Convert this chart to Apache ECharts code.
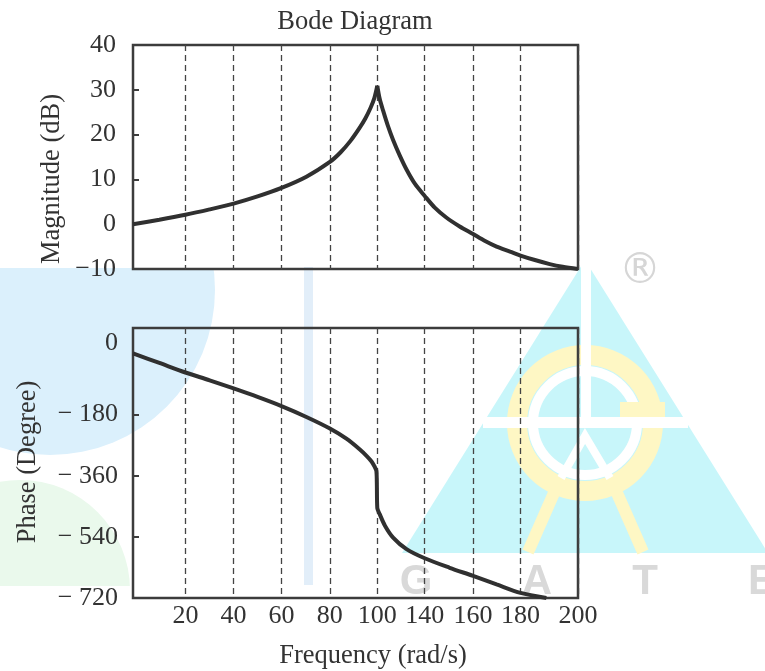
<!DOCTYPE html>
<html>
<head>
<meta charset="utf-8">
<script src="https://cdn.jsdelivr.net/npm/echarts@6/dist/echarts.min.js"></script>
<style>
  html, body { margin: 0; padding: 0; background: #fff; }
  #chart { width: 765px; height: 671px; }
</style>
</head>
<body>
<div id="chart"></div>
<script>
// x axis: one unit = one grid spacing of the figure (labels are not evenly spaced in rad/s)
var xTickAt = [1.094, 2.10, 3.10, 4.11, 5.10, 6.09, 7.10, 8.09, 9.29]
var xTickLabels = ['20', '40', '60', '80', '100', '140', '160', '180', '200']

// magnitude curve (dB), peak at index 15
var magX = [0, 0.55, 1.094, 1.6, 2.10, 2.6, 3.10, 3.62, 4.11, 4.33, 4.54, 4.73, 4.85, 4.96, 5.04, 5.10,
  5.15, 5.22, 5.32, 5.43, 5.57, 5.71, 5.88, 6.09, 6.30, 6.54, 6.82, 7.10, 7.34, 7.59, 7.87, 8.09, 8.39, 8.70, 8.97, 9.29]
var magDb = [0, 1.0, 2.1, 3.3, 4.6, 6.2, 8.1, 10.6, 13.9, 16.0, 18.6, 21.5, 23.6, 26.0, 28.2, 30.9,
  28.0, 25.4, 22.0, 18.8, 15.3, 12.2, 9.1, 6.3, 3.7, 1.5, -0.5, -2.2, -3.7, -5.0, -6.1, -7.0, -8.0, -8.9, -9.5, -10]

// phase curve (degree)
var phaseX = [0, 0.55, 1.094, 1.6, 2.10, 2.6, 3.10, 3.62, 4.11, 4.455, 4.73, 4.88, 4.98, 5.04, 5.08, 5.09, 5.10,
  5.15, 5.26, 5.43, 5.71, 6.09, 6.61, 7.10, 7.59, 8.09, 8.63]
var phaseDeg = [0, -28, -56, -79, -103, -128, -155, -187, -221, -251, -282, -302, -318, -332, -345, -380, -455,
  -473, -507, -542, -576, -603, -631, -655, -680, -705, -720]

var phaseLabelAt = [-720, -540, -360, -180, 0]
var phaseTickAt = [-540, -360, -180]

var serif = '"Liberation Serif", "DejaVu Serif", serif'
var ink = '#333'
var frame = '#3c3c3c'
var curve = '#303030'

function pairs (xs, ys) {
  return xs.map(function (x, i) { return [x, ys[i]] })
}
function xLabel (v) {
  var best = 0
  for (var i = 1; i < xTickAt.length; i++) {
    if (Math.abs(xTickAt[i] - v) < Math.abs(xTickAt[best] - v)) best = i
  }
  return xTickLabels[best]
}

// split the magnitude at its peak so the cusp stays sharp
var magData = pairs(magX, magDb)
var peak = magDb.indexOf(Math.max.apply(null, magDb))

var dashed = { show: true, lineStyle: { color: '#444', width: 1.3, type: [6, 4] } }
var textBase = { fontFamily: serif, fontSize: 26, color: ink }

// watermark pieces (behind the plot)
var yellow = '#fef7c4'
var watermark = [
  { type: 'circle', z: -10, shape: { cx: 50, cy: 290, r: 165 }, style: { fill: '#dbf0fc' } },
  { type: 'circle', z: -10, shape: { cx: 20, cy: 590, r: 110 }, style: { fill: '#eaf9ec' } },
  { type: 'rect', z: -9, shape: { x: 0, y: 0, width: 580, height: 268 }, style: { fill: '#fff' } },
  { type: 'rect', z: -9, shape: { x: 0, y: 586, width: 300, height: 90 }, style: { fill: '#fff' } },
  { type: 'rect', z: -8, shape: { x: 304, y: 267, width: 9, height: 318 }, style: { fill: '#e2eef9' } },
  { type: 'polygon', z: -8, shape: { points: [[585, 260], [402, 553], [768, 553]] }, style: { fill: '#c8f6fa' } },
  { type: 'circle', z: -7, shape: { cx: 585, cy: 423, r: 68 }, style: { fill: 'none', stroke: yellow, lineWidth: 20 } },
  { type: 'line', z: -7, shape: { x1: 561, y1: 477, x2: 528, y2: 552 }, style: { stroke: yellow, lineWidth: 12 } },
  { type: 'line', z: -7, shape: { x1: 610, y1: 477, x2: 643, y2: 552 }, style: { stroke: yellow, lineWidth: 12 } },
  { type: 'circle', z: -6, shape: { cx: 585, cy: 423, r: 52 }, style: { fill: 'none', stroke: '#fff', lineWidth: 10 } },
  { type: 'polyline', z: -6, shape: { points: [[561, 478], [585, 436], [610, 478]] }, style: { stroke: '#fff', lineWidth: 8, fill: 'none' } },
  { type: 'rect', z: -6, shape: { x: 581, y: 260, width: 10, height: 163 }, style: { fill: '#fff' } },
  { type: 'rect', z: -6, shape: { x: 483, y: 417, width: 205, height: 11 }, style: { fill: '#fff' } },
  { type: 'rect', z: -6, shape: { x: 620, y: 402, width: 45, height: 15 }, style: { fill: yellow } },
  { type: 'text', z: -6, x: 640, y: 272, style: { text: '\u00ae', font: '42px "DejaVu Sans"', fill: '#d6d6d6', align: 'center', verticalAlign: 'middle' } }
]
var gate = ['G', 'A', 'T', 'E']
var gateX = [416, 537, 645, 762]
gate.forEach(function (ch, i) {
  watermark.push({ type: 'text', z: -6, x: gateX[i], y: 582, style: { text: ch, font: 'bold 42px "Liberation Sans"', fill: '#d9d9d9', align: 'center', verticalAlign: 'middle' } })
})

var nameFont = '26.5px ' + serif
var labels = [
  { type: 'text', z: 10, x: 355, y: 22, style: { text: 'Bode Diagram', font: nameFont, fill: ink, align: 'center', verticalAlign: 'middle' } },
  { type: 'text', z: 10, x: 52, y: 179, rotation: Math.PI / 2, style: { text: 'Magnitude (dB)', font: nameFont, fill: ink, align: 'center', verticalAlign: 'middle' } },
  { type: 'text', z: 10, x: 28, y: 462, rotation: Math.PI / 2, style: { text: 'Phase (Degree)', font: nameFont, fill: ink, align: 'center', verticalAlign: 'middle' } },
  { type: 'text', z: 10, x: 373, y: 656, style: { text: 'Frequency (rad/s)', font: nameFont, fill: ink, align: 'center', verticalAlign: 'middle' } }
]

var lineBase = { type: 'line', z: 5, showSymbol: false, smooth: 0.3, lineStyle: { color: curve, width: 4 } }

var option = {
  animation: false,
  backgroundColor: '#fff',
  graphic: { elements: watermark.concat(labels) },
  grid: [
    { left: 133, right: 187, top: 45, height: 224, show: true, borderColor: frame, borderWidth: 2.5 },
    { left: 133, right: 187, top: 328, height: 270, show: true, borderColor: frame, borderWidth: 2.5 }
  ],
  xAxis: [
    {
      gridIndex: 0, type: 'value', min: 0, max: 9.29,
      axisLine: { show: false },
      axisTick: { show: false, customValues: xTickAt },
      axisLabel: { show: false, customValues: xTickAt },
      splitLine: dashed
    },
    {
      gridIndex: 1, type: 'value', min: 0, max: 9.29,
      axisLine: { show: false },
      axisTick: { show: false, customValues: xTickAt },
      axisLabel: Object.assign({ customValues: xTickAt, margin: 5, formatter: xLabel }, textBase),
      splitLine: dashed
    }
  ],
  yAxis: [
    {
      gridIndex: 0, type: 'value', min: -10, max: 40, interval: 10,
      axisLine: { show: false },
      axisTick: { show: true, inside: true, length: 6, lineStyle: { color: frame, width: 2 } },
      axisLabel: Object.assign({
        margin: 17,
        formatter: function (v) { return v < 0 ? '\u2212' + Math.abs(v) : String(v) }
      }, textBase),
      splitLine: { show: false }
    },
    {
      gridIndex: 1, type: 'value', min: -720, max: 75,
      axisLine: { show: false },
      axisTick: { show: true, inside: true, length: 6, customValues: phaseTickAt, lineStyle: { color: frame, width: 2 } },
      axisLabel: Object.assign({
        margin: 15,
        customValues: phaseLabelAt,
        formatter: function (v) { return v === 0 ? '{z|0}' : '\u2212 ' + Math.abs(v) },
        rich: { z: { fontFamily: serif, fontSize: 26, color: ink, padding: [0, 0, 20, 0] } }
      }, textBase),
      splitLine: { show: false }
    }
  ],
  series: [
    Object.assign({ name: 'Magnitude', xAxisIndex: 0, yAxisIndex: 0, data: magData.slice(0, peak + 1) }, lineBase),
    Object.assign({ name: 'Magnitude', xAxisIndex: 0, yAxisIndex: 0, data: magData.slice(peak) }, lineBase),
    Object.assign({ name: 'Phase', xAxisIndex: 1, yAxisIndex: 1, data: pairs(phaseX, phaseDeg) }, lineBase)
  ]
}

var myChart = echarts.init(document.getElementById('chart'))
myChart.setOption(option)
</script>
</body>
</html>
